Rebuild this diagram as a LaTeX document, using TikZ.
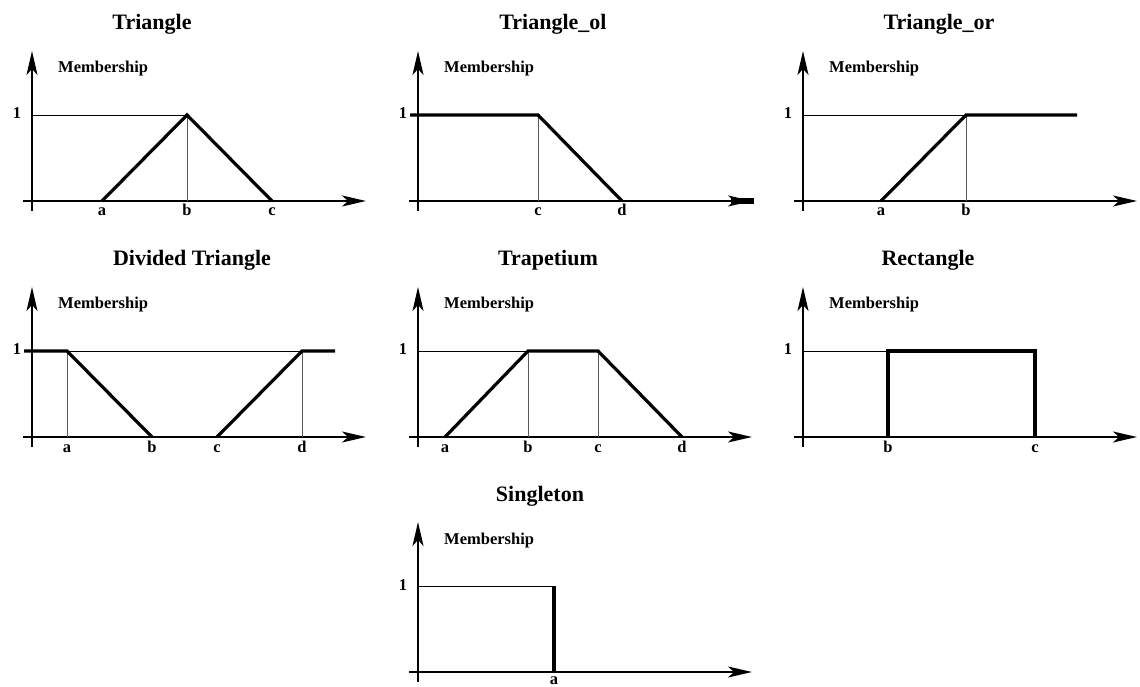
\documentclass[tikz,border=0pt]{standalone}
\usepackage{fontspec}
\setmainfont{Liberation Serif}
\usepackage{tikz}
\usetikzlibrary{arrows.meta}

\begin{document}
\begin{tikzpicture}[
  x=1pt, y=1pt,
  >={Stealth[length=24pt,width=11pt,inset=6pt]},
  axisline/.style={line width=1.8pt, ->},
  guide/.style={line width=0.8pt},
  vguide/.style={line width=0.8pt, black!65},
  mf/.style={line width=3.2pt, line join=miter},
  mfbold/.style={line width=4pt, line join=miter},
  lab/.style={font=\bfseries\fontsize{16.5}{16.5}\selectfont, inner sep=0pt},
  ttl/.style={font=\bfseries\fontsize{22}{22}\selectfont, inner sep=0pt},
]
\useasboundingbox (0,0) rectangle (1140,686);

% Axes, titles and labels of every panel
\foreach \ox/\oy/\id/\tx/\ttext in {32/485/p1/120/Triangle, 418/485/p2/135/Triangle\_ol,
    803/485/p3/136/Triangle\_or, 32/249/p4/160/Divided Triangle, 418/249/p5/130/Trapetium,
    803/249/p6/125/Rectangle, 418/14/p7/122/Singleton} {
  \begin{scope}[shift={(\ox,\oy)}]
    \coordinate (\id-o) at (0,0);
    \draw[axisline] (-9,0) -- (334,0);
    \draw[axisline] (0,-10) -- (0,150);
    \node[ttl, anchor=base] (\id-title) at (\tx,171) {\ttext};
    \node[lab, anchor=base west] (\id-mem) at (26,128) {Membership};
    \node[lab, anchor=base] (\id-one) at (-15,82) {1};
  \end{scope}
}

% Triangle
\begin{scope}[shift={(p1-o)}]
  \draw[guide] (0,86) -- (155,86);
  \draw[vguide] (155,0) -- (155,86);
  \draw[mf] (70,0) -- (155,86) -- (240,0);
  \foreach \px/\lab in {70/a, 155/b, 240/c} {
    \node[lab, anchor=base] (p1-\lab) at (\px,-15) {\lab};
  }
\end{scope}

% Triangle_ol
\begin{scope}[shift={(p2-o)}]
  \draw[vguide] (120,0) -- (120,86);
  \draw[mf] (-8,86) -- (120,86) -- (204,0);
  \fill (313,-3) rectangle (336,3);
  \foreach \px/\lab in {120/c, 204/d} {
    \node[lab, anchor=base] (p2-\lab) at (\px,-15) {\lab};
  }
\end{scope}

% Triangle_or
\begin{scope}[shift={(p3-o)}]
  \draw[guide] (0,86) -- (163,86);
  \draw[vguide] (163,0) -- (163,86);
  \draw[mf] (78,0) -- (163,86) -- (274,86);
  \foreach \px/\lab in {78/a, 163/b} {
    \node[lab, anchor=base] (p3-\lab) at (\px,-15) {\lab};
  }
\end{scope}

% Divided Triangle
\begin{scope}[shift={(p4-o)}]
  \draw[guide] (35,86) -- (270,86);
  \draw[vguide] (35,0) -- (35,86);
  \draw[vguide] (270,0) -- (270,86);
  \draw[mf] (-8,86) -- (35,86) -- (120,0);
  \draw[mf] (185,0) -- (270,86) -- (303,86);
  \foreach \px/\lab in {35/a, 120/b, 185/c, 270/d} {
    \node[lab, anchor=base] (p4-\lab) at (\px,-15) {\lab};
  }
\end{scope}

% Trapetium
\begin{scope}[shift={(p5-o)}]
  \draw[guide] (0,86) -- (110,86);
  \draw[vguide] (110,0) -- (110,86);
  \draw[vguide] (180,0) -- (180,86);
  \draw[mf] (27,0) -- (110,86) -- (180,86) -- (264,0);
  \foreach \px/\lab in {27/a, 110/b, 180/c, 264/d} {
    \node[lab, anchor=base] (p5-\lab) at (\px,-15) {\lab};
  }
\end{scope}

% Rectangle
\begin{scope}[shift={(p6-o)}]
  \draw[guide] (0,86) -- (85,86);
  \draw[mfbold] (85,0) -- (85,86) -- (232,86) -- (232,0);
  \foreach \px/\lab in {85/b, 232/c} {
    \node[lab, anchor=base] (p6-\lab) at (\px,-15) {\lab};
  }
\end{scope}

% Singleton
\begin{scope}[shift={(p7-o)}]
  \draw[guide] (0,86) -- (136,86);
  \draw[mfbold] (136,0) -- (136,86);
  \node[lab, anchor=base] (p7-a) at (136,-12) {a};
\end{scope}
\end{tikzpicture}
\end{document}
